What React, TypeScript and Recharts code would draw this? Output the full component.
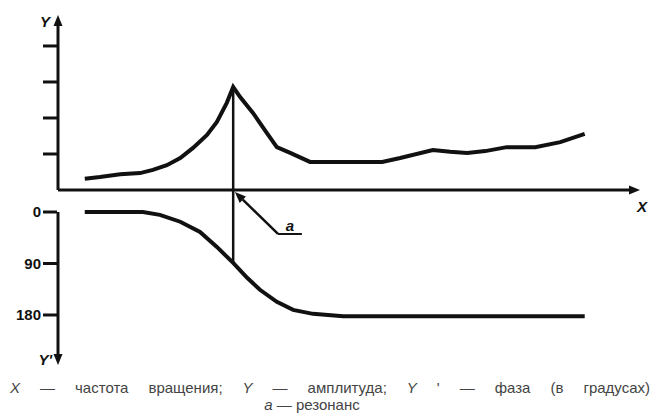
import { LineChart, Line, XAxis, YAxis, ReferenceLine } from "recharts";

// amplitude curve (upper half)
const ampFreq = [4.6, 7.2, 10.7, 14.1, 16.3, 18.7, 21.0, 23.2, 25.6, 27.3, 29.0, 30.1, 31.3, 33.5, 35.9, 37.6, 39.9, 43.3, 46.7, 55.7, 58.8, 64.4, 67.4, 70.3, 73.4, 77.1, 82.0, 86.3, 90.5];
const amplitude = [0.31, 0.36, 0.44, 0.47, 0.56, 0.69, 0.89, 1.17, 1.53, 1.89, 2.42, 2.86, 2.58, 2.14, 1.58, 1.19, 1.03, 0.78, 0.78, 0.78, 0.89, 1.11, 1.06, 1.03, 1.08, 1.19, 1.19, 1.33, 1.56];

// phase curve (lower half, degrees)
const phaseFreq = [4.6, 14.6, 17.5, 21.0, 24.4, 27.3, 30.1, 32.5, 34.7, 37.6, 40.4, 43.8, 49.0, 90.5];
const phase = [0, 0, 5, 17, 35, 61, 89, 115, 136, 157, 171, 178, 182, 182];

const ampTicks = [1, 2, 3, 4];
const phaseTicks = [0, 90, 180];

const ampData = ampFreq.map((x, i) => ({ x, y: amplitude[i] }));
const phaseData = phaseFreq.map((x, i) => ({ x, y: phase[i] }));

const peak = amplitude.indexOf(Math.max(...amplitude));
const resFreq = ampFreq[peak];
const resPhase = phase[phaseFreq.indexOf(resFreq)];

const INK = "#111";
const FONT = "Liberation Sans, Arial, sans-serif";
const AMP_DOMAIN: [number, number] = [-4.86, 4.86];
const PHASE_DOMAIN: [number, number] = [-344.3, 267.4];

const arrow = (label?: string, dx = 0, dy = 0, anchor = "middle") => (p: any) => {
  const { x1, y1, x2, y2 } = p;
  const ang = Math.atan2(y2 - y1, x2 - x1);
  const len = 11;
  const w = 4.5;
  const bx = x2 - len * Math.cos(ang);
  const by = y2 - len * Math.sin(ang);
  const nx = -Math.sin(ang) * w;
  const ny = Math.cos(ang) * w;
  return (
    <g>
      <line x1={x1} y1={y1} x2={bx} y2={by} stroke={INK} strokeWidth={p.strokeWidth} />
      <polygon points={`${x2},${y2} ${bx + nx},${by + ny} ${bx - nx},${by - ny}`} fill={INK} />
      {label && (
        <text x={x2 + dx} y={y2 + dy} textAnchor={anchor} fontSize={15} fontWeight="bold" fontStyle="italic" fill={INK} fontFamily={FONT}>
          {label}
        </text>
      )}
    </g>
  );
};

const labelled = (label: string) => (p: any) => {
  const { x1, y1, x2, y2 } = p;
  return (
    <g>
      <line x1={x1} y1={y1} x2={x2} y2={y2} stroke={INK} strokeWidth={p.strokeWidth} />
      <text x={(x1 + x2) / 2} y={y1 - 3} textAnchor="middle" fontSize={15} fontWeight="bold" fontStyle="italic" fill={INK} fontFamily={FONT}>
        {label}
      </text>
    </g>
  );
};

const tickFont = { fontSize: 15, fontWeight: "bold", fill: INK, fontFamily: FONT } as any;

export default function App() {
  return (
    <div style={{ position: "absolute", left: 0, top: 0, width: 652, height: 420, background: "#fff", fontFamily: FONT }}>
      <LineChart width={652} height={420} margin={{ top: 15, right: 12, bottom: 55, left: 56 }}>
        <XAxis type="number" dataKey="x" domain={[0, 100]} hide />
        <YAxis
          yAxisId="amp"
          type="number"
          domain={AMP_DOMAIN}
          ticks={ampTicks}
          width={1}
          axisLine={false}
          tickLine={{ stroke: INK, strokeWidth: 3 }}
          tickSize={15}
          tickFormatter={() => ""}
        />
        <YAxis
          yAxisId="phase"
          type="number"
          domain={PHASE_DOMAIN}
          reversed
          ticks={phaseTicks}
          width={1}
          axisLine={false}
          tickLine={{ stroke: INK, strokeWidth: 3 }}
          tickSize={14}
          tickMargin={2}
          tick={tickFont}
        />

        {/* axes with arrows */}
        <ReferenceLine yAxisId="amp" segment={[{ x: 0, y: 0 }, { x: 0, y: AMP_DOMAIN[1] }]} strokeWidth={3} shape={arrow("Y", -8, 12, "end")} />
        <ReferenceLine yAxisId="amp" segment={[{ x: 0, y: 0 }, { x: 100, y: 0 }]} strokeWidth={3} shape={arrow("X", 2, 22)} />
        <ReferenceLine yAxisId="phase" segment={[{ x: 0, y: 0 }, { x: 0, y: PHASE_DOMAIN[1] }]} strokeWidth={3} shape={arrow("Y'", -6, 0, "end")} />

        {/* resonance marker */}
        <ReferenceLine yAxisId="amp" segment={[{ x: resFreq, y: amplitude[peak] }, { x: resFreq, y: 0 }]} stroke={INK} strokeWidth={2.5} />
        <ReferenceLine yAxisId="phase" segment={[{ x: resFreq, y: -38.4 }, { x: resFreq, y: resPhase }]} stroke={INK} strokeWidth={2.5} />
        <ReferenceLine yAxisId="phase" segment={[{ x: 41.9, y: 38.4 }, { x: 37.8, y: 38.4 }]} strokeWidth={2} shape={labelled("a")} />
        <ReferenceLine yAxisId="phase" segment={[{ x: 37.8, y: 38.4 }, { x: 30.4, y: -35 }]} strokeWidth={2.5} shape={arrow()} />

        <Line yAxisId="amp" data={ampData} dataKey="y" type="linear" dot={false} stroke={INK} strokeWidth={4} isAnimationActive={false} />
        <Line yAxisId="phase" data={phaseData} dataKey="y" type="linear" dot={false} stroke={INK} strokeWidth={4} isAnimationActive={false} />
      </LineChart>

      <div style={{ position: "absolute", left: 10, top: 379, width: 640, fontSize: 15, lineHeight: "18px", color: "#444", textAlign: "justify", textAlignLast: "justify" as any, whiteSpace: "nowrap" }}>
        <i>X</i> — частота вращения; <i>Y</i> — амплитуда; <i>Y</i> ' — фаза (в градусах)
      </div>
      <div style={{ position: "absolute", left: 0, top: 396, width: 624, fontSize: 15, lineHeight: "18px", color: "#444", textAlign: "center" }}>
        <i>a</i> — резонанс
      </div>
    </div>
  );
}
